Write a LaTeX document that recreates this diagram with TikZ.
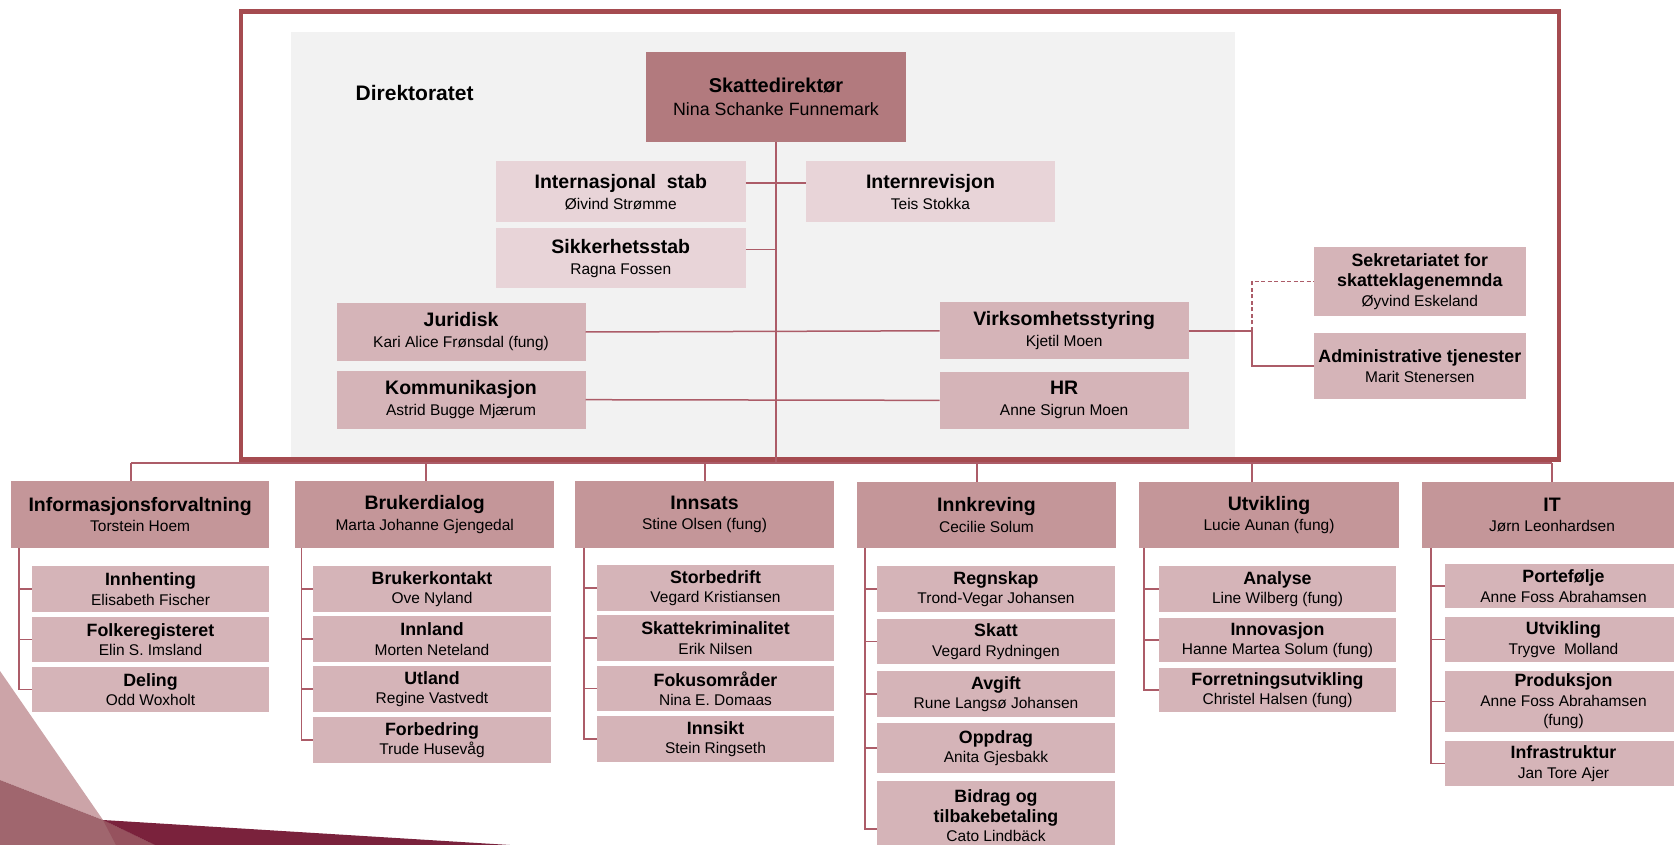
\documentclass[tikz,border=0pt]{standalone}
\usepackage{fontspec}
\setmainfont{Liberation Sans}
\definecolor{frameC}{RGB}{165,75,80}
\definecolor{lineC}{RGB}{172,92,104}
\definecolor{topC}{RGB}{178,122,126}
\definecolor{staffC}{RGB}{232,212,216}
\definecolor{unitC}{RGB}{213,180,184}
\definecolor{headC}{RGB}{196,150,153}
\definecolor{panelC}{RGB}{242,242,242}
\definecolor{decoA}{RGB}{204,164,168}
\definecolor{decoB}{RGB}{160,102,110}
\definecolor{decoD}{RGB}{150,82,94}
\definecolor{decoC}{RGB}{122,34,60}
\newcommand{\ubox}[7]{\node[#2, minimum width={#5-#3}, minimum height={#6-#4}] (#1) at ({(#3+#5)/2},{(#4+#6)/2}) {#7};}
\newcommand{\mkT}[2]{{\bfseries\fontsize{19.5}{20}\selectfont #1}\\#2}
\newcommand{\mkS}[2]{{\bfseries\fontsize{17.8}{19}\selectfont #1}\\#2}
\newcommand{\bS}[1]{{\bfseries\fontsize{17.8}{19}\selectfont #1}}
\tikzset{
  box/.style={inner sep=0pt, outer sep=0pt, align=center, text=black},
  topbox/.style={box, fill=topC, font=\fontsize{17.8}{22.5}\selectfont},
  dirbox/.style={box, fill=staffC, font=\fontsize{15.5}{21}\selectfont},
  unitbox/.style={box, fill=unitC, font=\fontsize{15.5}{21}\selectfont},
  sidebox/.style={box, fill=unitC, font=\fontsize{15.5}{20}\selectfont},
  headbox/.style={box, fill=headC, font=\fontsize{15.5}{20.5}\selectfont},
  subbox/.style={box, fill=unitC, font=\fontsize{15.5}{19.5}\selectfont},
  conn/.style={draw=lineC, line width=1.5pt},
}
\begin{document}
\begin{tikzpicture}[x=1pt, y=-1pt]
\clip (0,0) rectangle (1674,845);
\fill[white] (0,0) rectangle (1674,845);
% decoration bottom left
\fill[decoA] (0,671) -- (103,820) -- (0,780) -- cycle;
\fill[decoB] (0,780) -- (103,820) -- (155,845) -- (0,845) -- cycle;
\fill[decoD] (103,820) -- (155,845) -- (116,845) -- cycle;
\fill[decoC] (103,820) -- (510,845) -- (155,845) -- cycle;
% directorate panel and frame
\fill[panelC] (291,31.7) rectangle (1234.6,457);
\draw[frameC, line width=4.5pt] (241,11.7) rectangle (1559,459.5);
\node[font=\bfseries\fontsize{21}{24}\selectfont] (dir) at (414.6,92.7) {Direktoratet};
% top
\ubox{top}{topbox}{646}{52}{906}{142}{{\bfseries\fontsize{20}{22}\selectfont Skattedirektør}\\Nina Schanke Funnemark}
\ubox{intl}{dirbox}{496}{161}{745.6}{222.5}{\mkT{Internasjonal~ stab}{Øivind Strømme}}
\ubox{sikk}{dirbox}{496}{228.3}{745.6}{288.3}{\mkT{Sikkerhetsstab}{Ragna Fossen}}
\ubox{irev}{dirbox}{806}{161}{1055}{222.5}{\mkT{Internrevisjon}{Teis Stokka}}
\ubox{jur}{unitbox}{336.5}{303.3}{585.6}{360.7}{\mkT{Juridisk}{Kari Alice Frønsdal (fung)}}
\ubox{kom}{unitbox}{336.5}{370.7}{585.6}{428.7}{\mkT{Kommunikasjon}{Astrid Bugge Mjærum}}
\ubox{virk}{unitbox}{939.5}{302.3}{1188.7}{359.3}{\mkT{Virksomhetsstyring}{Kjetil Moen}}
\ubox{hr}{unitbox}{939.5}{371.7}{1188.7}{429}{\mkT{HR}{Anne Sigrun Moen}}
\ubox{sekr}{sidebox}{1313.6}{247}{1526}{315.7}{\bS{Sekretariatet for}\\\bS{skatteklagenemnda}\\Øyvind Eskeland}
\ubox{adm}{sidebox}{1313.6}{332.7}{1526}{399.3}{\mkS{Administrative tjenester}{Marit Stenersen}}
% directorate connectors
\draw[conn] ([yshift=8.5pt]intl.east) -- ([yshift=8.5pt]irev.west);
\draw[conn] ([yshift=9pt]sikk.east) -- ++(31.4,0);
\draw[conn] (jur.east) -- (virk.west);
\draw[conn] (kom.east) -- (hr.west);
\draw[conn] (virk.east) -- ++(63.3,0) coordinate (vj);
\draw[conn] (vj) |- (adm.west);
\draw[conn, dashed, dash pattern=on 4pt off 2.5pt] (vj) |- (sekr.west);
% department heads
\ubox{info}{headbox}{11}{480.7}{269.3}{548.3}{\mkT{Informasjonsforvaltning}{Torstein Hoem}}
\ubox{bruk}{headbox}{295}{480.7}{554.4}{548.3}{\mkT{Brukerdialog}{Marta Johanne Gjengedal}}
\ubox{inns}{headbox}{575}{480.7}{834}{548.3}{\mkT{Innsats}{Stine Olsen (fung)}}
\ubox{innk}{headbox}{857}{481.7}{1116}{548.3}{\mkT{Innkreving}{Cecilie Solum}}
\ubox{utv}{headbox}{1139}{481.7}{1399}{548.3}{\mkT{Utvikling}{Lucie Aunan (fung)}}
\ubox{it}{headbox}{1422}{481.7}{1682}{548.3}{\mkT{IT}{Jørn Leonhardsen}}
% main bar
\coordinate (b1) at (131,463);
\coordinate (b2) at (426,463);
\coordinate (b3) at (705,463);
\coordinate (b4) at (977,463);
\coordinate (b5) at (1252,463);
\coordinate (b6) at (1552,463);
\draw[conn] (top.south) -- (top.south |- b1);
\draw[conn] (b1) -- (b6);
\draw[conn] (b1) -- (b1 |- info.north);
\draw[conn] (b2) -- (b2 |- bruk.north);
\draw[conn] (b3) -- (b3 |- inns.north);
\draw[conn] (b4) -- (b4 |- innk.north);
\draw[conn] (b5) -- (b5 |- utv.north);
\draw[conn] (b6) -- (b6 |- it.north);
% column 1
\ubox{c1a}{subbox}{32}{566}{269}{612}{\mkS{Innhenting}{Elisabeth Fischer}}
\ubox{c1b}{subbox}{32}{617}{269}{662}{\mkS{Folkeregisteret}{Elin S. Imsland}}
\ubox{c1c}{subbox}{32}{667}{269}{712}{\mkS{Deling}{Odd Woxholt}}
\foreach \s in {c1a,c1b,c1c} \draw[conn, line width=1.2pt] ([xshift=8pt]info.south west) |- (\s.west);
% column 2
\ubox{c2a}{subbox}{313}{566}{551}{612}{\mkS{Brukerkontakt}{Ove Nyland}}
\ubox{c2b}{subbox}{313}{616}{551}{662}{\mkS{Innland}{Morten Neteland}}
\ubox{c2c}{subbox}{313}{666}{551}{712}{\mkS{Utland}{Regine Vastvedt}}
\ubox{c2d}{subbox}{313}{717}{551}{763}{\mkS{Forbedring}{Trude Husevåg}}
\foreach \s in {c2a,c2b,c2c,c2d} \draw[conn, line width=1.2pt] ([xshift=6.5pt]bruk.south west) |- (\s.west);
% column 3
\ubox{c3a}{subbox}{597}{565}{834}{611}{\mkS{Storbedrift}{Vegard Kristiansen}}
\ubox{c3b}{subbox}{597}{615}{834}{661}{\mkS{Skattekriminalitet}{Erik Nilsen}}
\ubox{c3c}{subbox}{597}{666}{834}{711}{\mkS{Fokusområder}{Nina E. Domaas}}
\ubox{c3d}{subbox}{597}{716}{834}{762}{\mkS{Innsikt}{Stein Ringseth}}
\foreach \s in {c3a,c3b,c3c,c3d} \draw[conn, line width=1.2pt] ([xshift=9pt]inns.south west) |- (\s.west);
% column 4
\ubox{c4a}{subbox}{877}{566}{1115}{612}{\mkS{Regnskap}{Trond-Vegar Johansen}}
\ubox{c4b}{subbox}{877}{619}{1115}{664}{\mkS{Skatt}{Vegard Rydningen}}
\ubox{c4c}{subbox}{877}{671}{1115}{717}{\mkS{Avgift}{Rune Langsø Johansen}}
\ubox{c4d}{subbox}{877}{723}{1115}{773}{\mkS{Oppdrag}{Anita Gjesbakk}}
\ubox{c4e}{subbox}{877}{781}{1115}{851}{\bS{Bidrag og}\\\bS{tilbakebetaling}\\Cato Lindbäck}
\foreach \s in {c4a,c4b,c4c,c4d} \draw[conn, line width=1.2pt] ([xshift=8pt]innk.south west) |- (\s.west);
\draw[conn, line width=1.2pt] ([xshift=8pt]innk.south west) |- ([yshift=-13pt]c4e.west);
% column 5
\ubox{c5a}{subbox}{1159}{566}{1396}{612}{\mkS{Analyse}{Line Wilberg (fung)}}
\ubox{c5b}{subbox}{1159}{618}{1396}{662}{\mkS{Innovasjon}{Hanne Martea Solum (fung)}}
\ubox{c5c}{subbox}{1159}{668}{1396}{712}{\mkS{Forretningsutvikling}{Christel Halsen (fung)}}
\foreach \s in {c5a,c5b,c5c} \draw[conn, line width=1.2pt] ([xshift=5pt]utv.south west) |- (\s.west);
% column 6
\ubox{c6a}{subbox}{1445}{564}{1682}{608}{\mkS{Portefølje}{Anne Foss Abrahamsen}}
\ubox{c6b}{subbox}{1445}{617}{1682}{662}{\mkS{Utvikling}{Trygve~ Molland}}
\ubox{c6c}{subbox}{1445}{671}{1682}{732}{\mkS{Produksjon}{Anne Foss Abrahamsen\\(fung)}}
\ubox{c6d}{subbox}{1445}{741}{1682}{786}{\mkS{Infrastruktur}{Jan Tore Ajer}}
\foreach \s in {c6a,c6b,c6c,c6d} \draw[conn, line width=1.2pt] ([xshift=9pt]it.south west) |- (\s.west);
\end{tikzpicture}
\end{document}
